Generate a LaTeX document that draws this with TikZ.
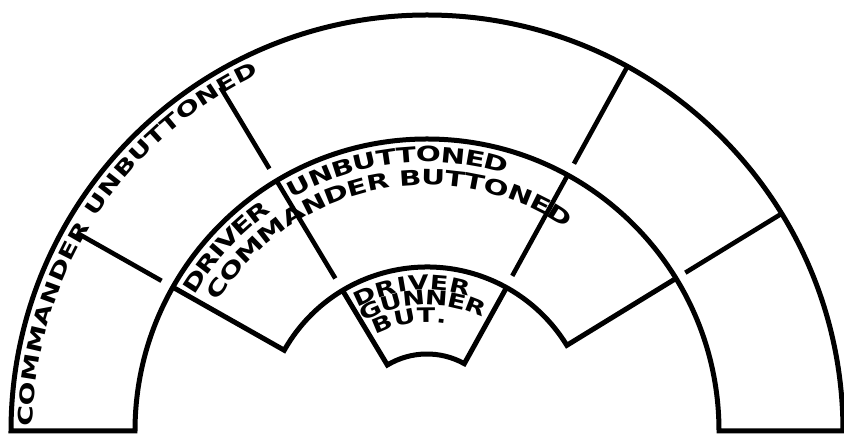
\documentclass[tikz,border=0pt]{standalone}
\usepackage{fontspec}
\usepackage{graphicx}
\newfontfamily\lblfont{DejaVu Sans Bold}
% #1 name prefix, #2 font size, #3 horizontal stretch, #4 baseline radius,
% #5 start angle, #6 end angle, #7 letter/advance-width(em) list
\newcommand\arclabel[7]{%
  \xdef\lbltot{0}\xdef\lbln{0}%
  \foreach \lblch/\lblwd [count=\lbli] in {#7} {%
    \pgfmathsetmacro\lblt{\lbltot+\lblwd}%
    \xdef\lbltot{\lblt}\xdef\lbln{\lbli}%
  }%
  \pgfmathsetmacro\lblgap{((#5-#6)/57.29578*#4 - \lbltot*#2*#3)/(\lbln-1)}%
  \xdef\lblcur{#5}%
  \foreach \lblch/\lblwd [count=\lbli] in {#7} {%
    \pgfmathsetmacro\lblw{\lblwd*#2*#3}%
    \pgfmathsetmacro\lblmid{\lblcur - (\lblw/2)/#4*57.29578}%
    \node[name=#1\lbli, font={\lblfont\fontsize{#2pt}{#2pt}\selectfont},
      rotate=\lblmid-90, anchor=base, inner sep=0pt, outer sep=0pt]
      at (\lblmid:#4) {\scalebox{#3}[1]{\lblch}};
    \pgfmathsetmacro\lblnext{\lblcur - (\lblw+\lblgap)/#4*57.29578}%
    \xdef\lblcur{\lblnext}%
  }%
}
\begin{document}
\begin{tikzpicture}[x=1pt,y=1pt,
  outline/.style={line width=5pt,line join=miter},
  divider/.style={line width=4.6pt}]
\fill[white] (0,0) rectangle (844,438);
\useasboundingbox (0,0) rectangle (844,438);
\begin{scope}[shift={(427,7)}]
  \coordinate (c) at (0,0);
  % outer band
  \draw[outline] (180:416) arc[start angle=180,end angle=0,radius=416]
    -- (0:292) arc[start angle=0,end angle=180,radius=292] -- cycle;
  % middle band
  \draw[outline] (150.5:292) -- (150.5:164)
    arc[start angle=150.5,end angle=31.5,radius=164] -- (31.5:292);
  % small box
  \draw[outline] (121:164) -- (121:77)
    arc[start angle=121,end angle=61,radius=77] -- (61:164);
  % outer dividers
  \draw[divider] (150.5:401) -- (150.5:305);
  \draw[divider] (121:401) -- (121:306);
  \draw[divider] (61.2:416) -- (61.2:305);
  \draw[divider] (31.5:416) -- (31.5:303);
  % middle dividers
  \draw[divider] (121:292) -- (121:178);
  \draw[divider] (61.2:292) -- (61.2:177);
  % labels
  \arclabel{ou}{20}{1.4}{394}{179.4}{115.2}{C/.734,O/.850,M/.995,M/.995,A/.774,N/.837,D/.830,E/.683,R/.770,~/.348,U/.812,N/.837,B/.762,U/.812,T/.682,T/.682,O/.850,N/.837,E/.683,D/.830}
  \arclabel{mda}{21}{1.4}{269}{149.8}{125.3}{D/.830,R/.770,I/.372,V/.774,E/.683,R/.770}
  \arclabel{mub}{21}{1.4}{269}{120.2}{72.8}{U/.812,N/.837,B/.762,U/.812,T/.682,T/.682,O/.850,N/.837,E/.683,D/.830}
  \arclabel{mcb}{21}{1.4}{246}{148.3}{55.5}{C/.734,O/.850,M/.995,M/.995,A/.774,N/.837,D/.830,E/.683,R/.770,~/.348,B/.762,U/.812,T/.682,T/.682,O/.850,N/.837,E/.683,D/.830}
  \arclabel{sd}{20}{1.35}{141}{119.5}{73}{D/.830,R/.770,I/.372,V/.774,E/.683,R/.770}
  \arclabel{sg}{20}{1.35}{126}{120}{64}{G/.821,U/.812,N/.837,N/.837,E/.683,R/.770}
  \arclabel{sb}{20}{1.35}{109}{118}{80}{B/.762,U/.812,T/.682,./.381}
\end{scope}
\end{tikzpicture}
\end{document}
